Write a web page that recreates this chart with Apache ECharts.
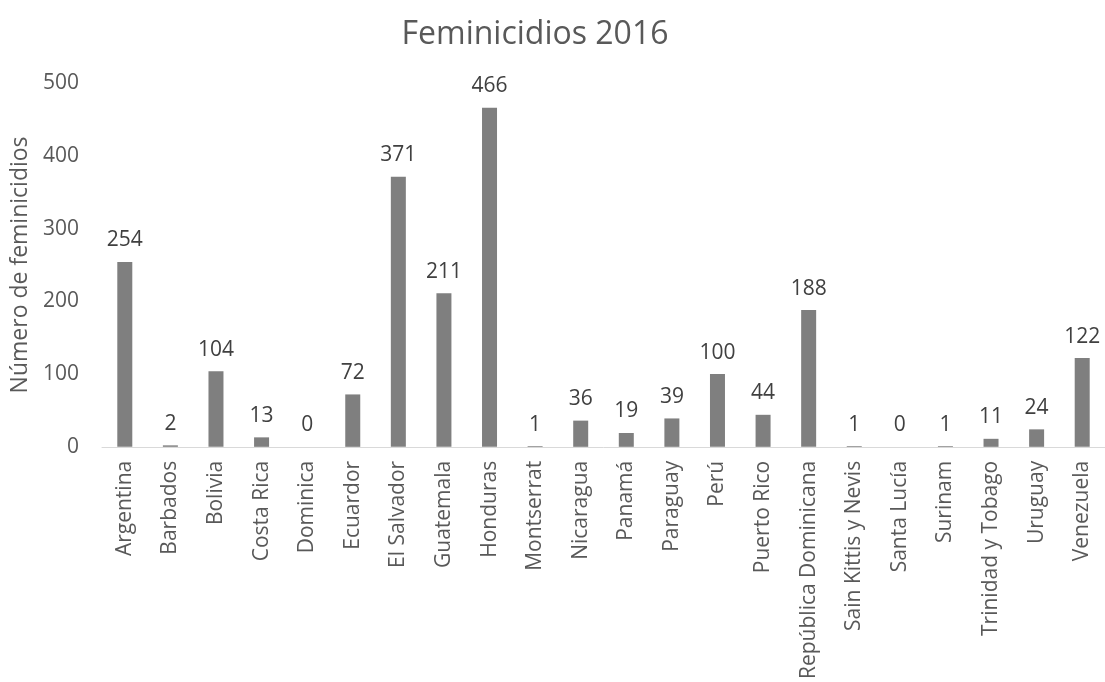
<!DOCTYPE html>
<html>
<head>
<meta charset="utf-8">
<script src="https://cdn.jsdelivr.net/npm/echarts@6/dist/echarts.min.js"></script>
<style>
  html, body { margin: 0; padding: 0; background: #fff; }
  #chart { width: 1105px; height: 682px; }
</style>
</head>
<body>
<div id="chart"></div>
<script>
const paises = ["Argentina", "Barbados", "Bolivia", "Costa Rica", "Dominica", "Ecuardor",
  "El Salvador", "Guatemala", "Honduras", "Montserrat", "Nicaragua", "Panamá", "Paraguay",
  "Perú", "Puerto Rico", "República Dominicana", "Sain Kittis y Nevis", "Santa Lucía",
  "Surinam", "Trinidad y Tobago", "Uruguay", "Venezuela"];
const feminicidios = [254, 2, 104, 13, 0, 72, 371, 211, 466, 1, 36, 19, 39, 100, 44, 188, 1, 0, 1, 11, 24, 122];

const fuente = "'Open Sans', 'Noto Sans', sans-serif";
const chart = echarts.init(document.getElementById("chart"));

chart.setOption({
  animation: false,
  textStyle: { fontFamily: fuente },
  title: {
    text: "Feminicidios 2016",
    left: 530,
    top: 14,
    textAlign: "center",
    textStyle: { fontFamily: fuente, fontSize: 32, fontWeight: "normal", color: "#595959" }
  },
  grid: { left: 102, top: 83, width: 1012, height: 367 },
  xAxis: {
    type: "category",
    data: paises,
    axisLine: { lineStyle: { color: "#d9d9d9", width: 1 } },
    axisTick: { show: false },
    axisLabel: {
      rotate: 90,
      interval: 0,
      margin: 14,
      color: "#595959",
      fontSize: 21,
      fontFamily: fuente
    }
  },
  yAxis: {
    type: "value",
    min: 0,
    max: 500,
    interval: 100,
    name: "Número de feminicidios",
    nameLocation: "middle",
    nameGap: 70,
    nameTextStyle: { color: "#595959", fontSize: 23, fontFamily: fuente },
    axisLine: { show: false },
    axisTick: { show: false },
    splitLine: { show: false },
    axisLabel: { color: "#595959", fontSize: 21, fontFamily: fuente, margin: 23 }
  },
  series: [{
    type: "bar",
    data: feminicidios,
    barWidth: 15,
    itemStyle: { color: "#7f7f7f" },
    label: {
      show: true,
      position: "top",
      distance: 11,
      color: "#404040",
      fontSize: 21,
      fontFamily: fuente
    }
  }]
});
</script>
</body>
</html>
